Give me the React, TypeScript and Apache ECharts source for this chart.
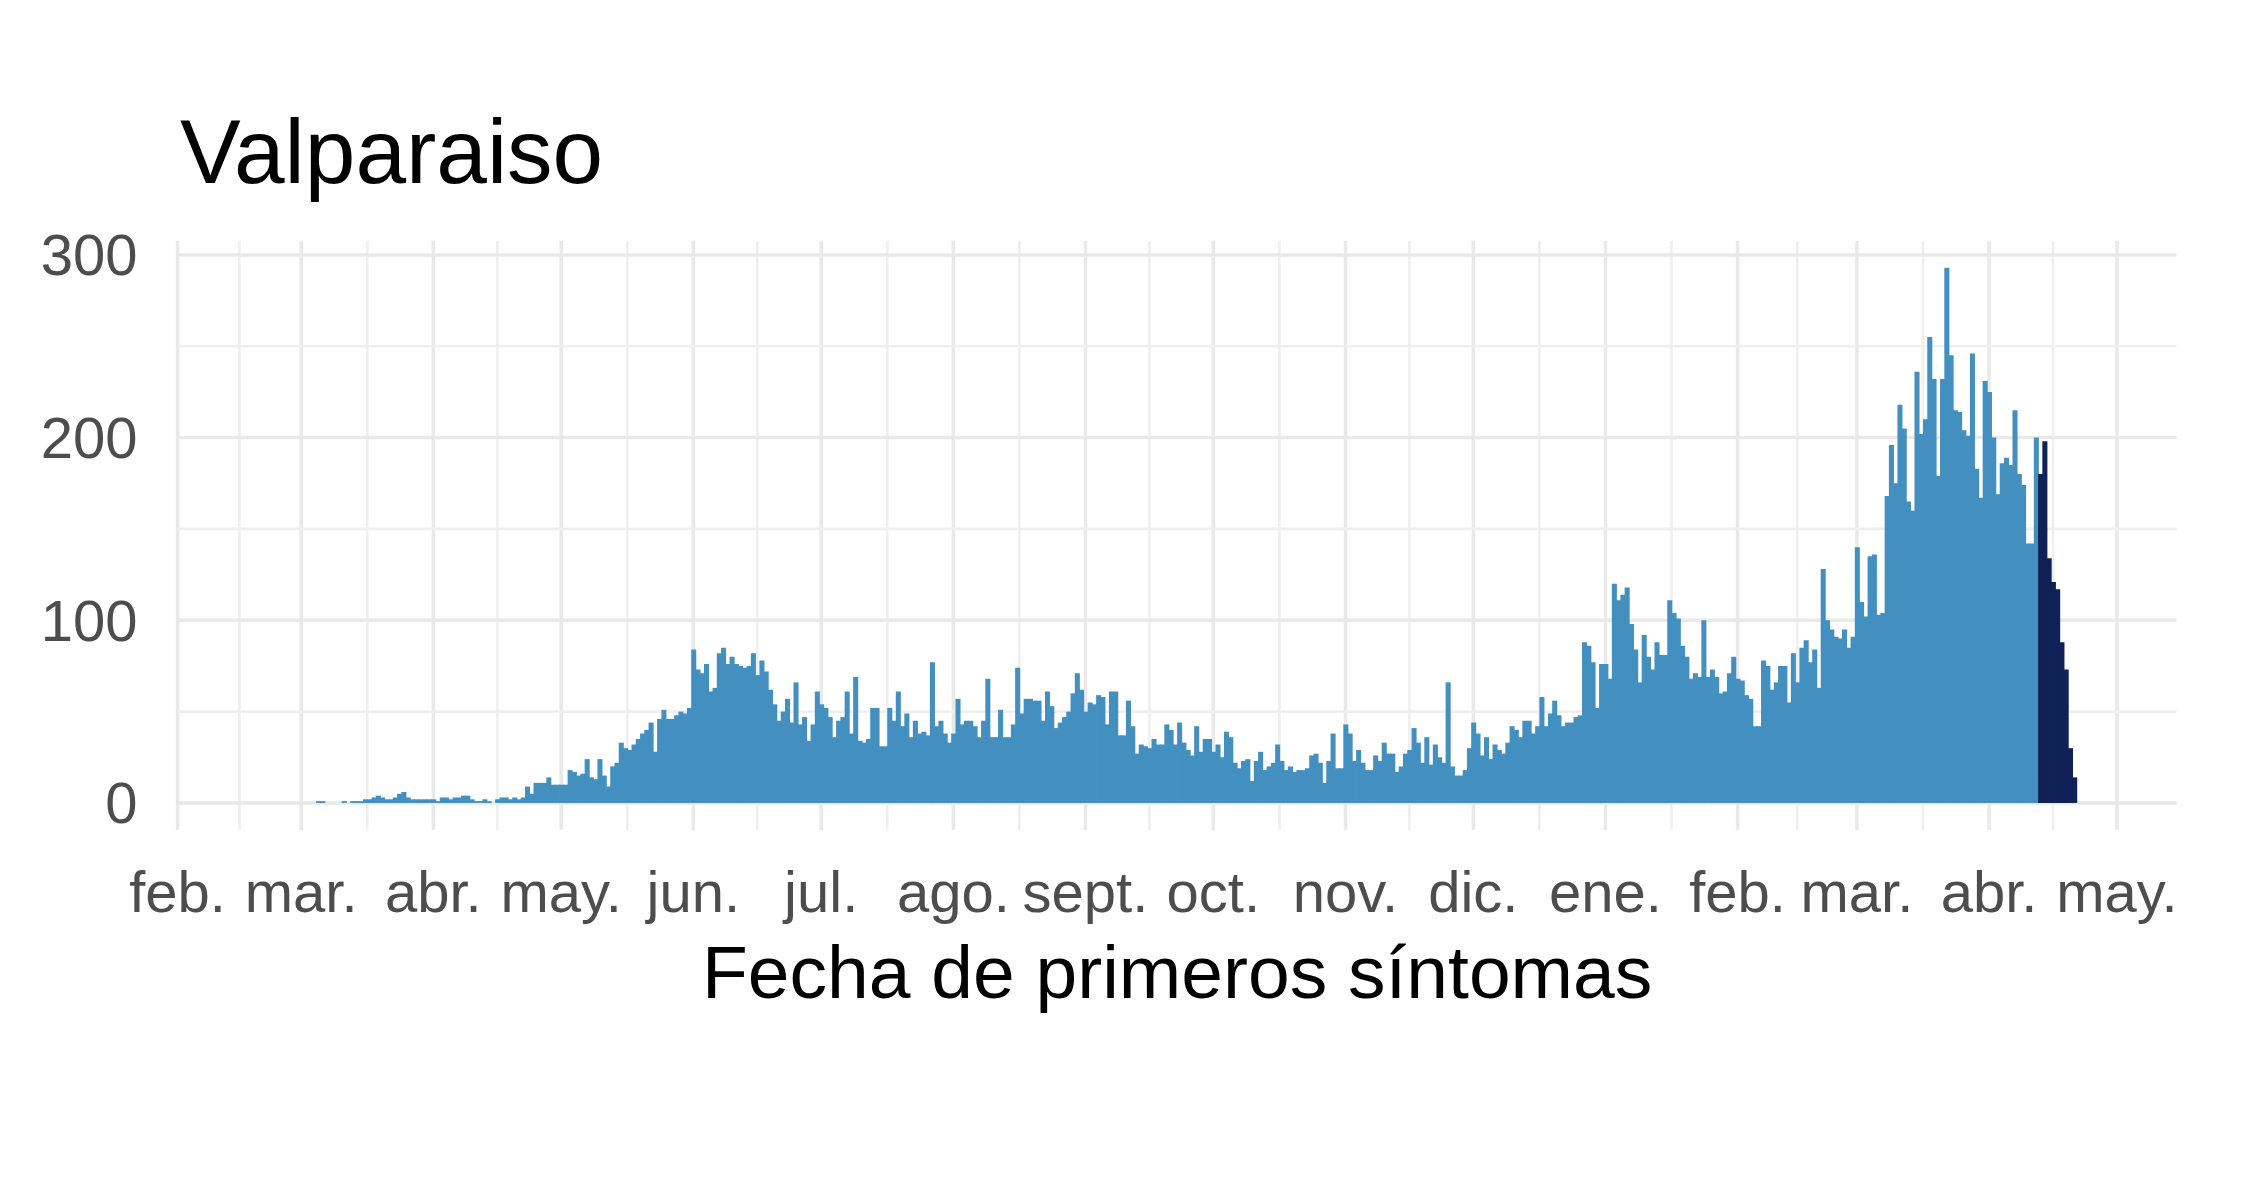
import React, { useEffect, useRef } from "react";
import * as echarts from "echarts";

// ---- Data: daily cases by date of first symptoms (Valparaiso) ----
const ORIGIN_DATE = "2020-02-01";
const SERIES_START = "2020-03-01";

const casosMar2020 = [0, 0, 0, 0, 1, 1, 0, 0, 0, 0, 1, 0, 1, 1, 1, 2, 2, 3, 4, 3, 2, 2, 3, 5, 6, 3, 2, 2, 2, 2, 2];
const casosAbr2020 = [2, 1, 3, 3, 2, 3, 3, 4, 4, 2, 1, 1, 2, 1, 0, 2, 3, 3, 2, 3, 2, 3, 9, 5, 11, 11, 11, 14, 10, 10];
const casosMay2020 = [10, 10, 18, 17, 15, 16, 24, 14, 13, 24, 15, 9, 20, 22, 33, 30, 29, 32, 35, 38, 40, 44, 28, 46, 51, 46, 46, 48, 50, 49, 52];
const casosJun2020 = [84, 73, 71, 76, 61, 63, 82, 85, 76, 80, 76, 75, 74, 75, 82, 70, 78, 72, 62, 54, 45, 50, 57, 44, 66, 43, 47, 34, 43, 61];
const casosJul2020 = [54, 52, 47, 36, 45, 47, 61, 38, 69, 34, 33, 35, 52, 52, 31, 31, 52, 45, 61, 42, 49, 36, 45, 38, 39, 37, 77, 42, 45, 38, 33];
const casosAgo2020 = [38, 57, 43, 45, 45, 42, 36, 45, 68, 36, 36, 51, 36, 36, 43, 74, 49, 57, 57, 56, 56, 45, 61, 53, 41, 44, 47, 50, 60, 71, 62];
const casosSep2020 = [50, 55, 54, 59, 58, 43, 61, 61, 37, 37, 56, 42, 27, 32, 31, 30, 35, 32, 32, 43, 40, 32, 44, 33, 29, 26, 42, 28, 35, 35];
const casosOct2020 = [28, 32, 25, 39, 36, 22, 19, 23, 24, 12, 23, 28, 18, 20, 22, 32, 23, 18, 20, 17, 18, 18, 19, 26, 27, 22, 11, 23, 38, 19, 19];
const casosNov2020 = [43, 38, 23, 29, 22, 18, 18, 26, 23, 33, 27, 27, 17, 20, 27, 29, 41, 33, 22, 36, 21, 32, 25, 22, 66, 20, 15, 15, 18, 30];
const casosDic2020 = [44, 38, 26, 36, 24, 32, 29, 27, 33, 42, 40, 36, 45, 45, 38, 42, 58, 42, 49, 56, 48, 42, 44, 44, 47, 48, 88, 86, 77, 52, 76];
const casosEne2021 = [76, 68, 120, 111, 114, 118, 98, 84, 66, 92, 80, 73, 88, 81, 81, 111, 104, 101, 86, 80, 68, 71, 69, 100, 69, 73, 69, 60, 61, 71, 80];
const casosFeb2021 = [68, 67, 59, 57, 42, 42, 78, 75, 62, 66, 75, 75, 55, 82, 66, 85, 89, 77, 84, 63, 128, 100, 95, 91, 90, 95, 85, 91];
const casosMar2021 = [140, 110, 102, 135, 136, 103, 104, 168, 196, 175, 218, 205, 165, 160, 236, 202, 210, 255, 232, 179, 232, 293, 245, 215, 214, 204, 201, 246, 183, 167, 231];
const casosAbr2021 = [225, 200, 169, 186, 189, 185, 215, 180, 174, 142, 142, 200];
// Most recent days (still being reported), 2021-04-13 .. 2021-04-21
const RECENT_START = "2021-04-13";
const casosRecientes = [180, 198, 134, 121, 117, 88, 73, 30, 14];

const TICK_LABELS = ["feb.", "mar.", "abr.", "may.", "jun.", "jul.", "ago.", "sept.", "oct.", "nov.", "dic.", "ene.", "feb.", "mar.", "abr.", "may."];
const TICK_DATES = [
  "2020-02-01", "2020-03-01", "2020-04-01", "2020-05-01", "2020-06-01", "2020-07-01",
  "2020-08-01", "2020-09-01", "2020-10-01", "2020-11-01", "2020-12-01", "2021-01-01",
  "2021-02-01", "2021-03-01", "2021-04-01", "2021-05-01",
];
const Y_TICKS = [0, 100, 200, 300];
const Y_MINOR = [50, 150, 250];

const TITLE = "Valparaiso";
const X_TITLE = "Fecha de primeros síntomas";

const dayIndex = (s: string) =>
  Math.round((Date.parse(s + "T00:00:00Z") - Date.parse(ORIGIN_DATE + "T00:00:00Z")) / 86400000);

export default function App() {
  const ref = useRef<HTMLDivElement>(null);

  useEffect(() => {
    if (!ref.current) return;
    const chart = echarts.init(ref.current, undefined, { renderer: "svg" });

    const allLight = [
      ...casosMar2020, ...casosAbr2020, ...casosMay2020, ...casosJun2020, ...casosJul2020,
      ...casosAgo2020, ...casosSep2020, ...casosOct2020, ...casosNov2020, ...casosDic2020,
      ...casosEne2021, ...casosFeb2021, ...casosMar2021, ...casosAbr2021,
    ];
    const s0 = dayIndex(SERIES_START);
    const lightData = allLight.map((v, i) => [s0 + i, v]);
    const r0 = dayIndex(RECENT_START);
    const darkData = casosRecientes.map((v, i) => [r0 + i, v]);

    const majorDays = TICK_DATES.map(dayIndex);
    const minorDays: number[] = [];
    for (let i = 0; i < majorDays.length - 1; i++) minorDays.push((majorDays[i] + majorDays[i + 1]) / 2);

    const vgridData = [
      ...minorDays.map((d) => [d, 0, 0]),
      ...majorDays.map((d) => [d, 0, 1]),
    ];
    const hgridData = [
      ...Y_MINOR.map((v) => [0, v, 0]),
      ...Y_TICKS.map((v) => [0, v, 1]),
    ];

    const barRender = (color: string) => (params: any, api: any) => {
      const d = api.value(0);
      const v = api.value(1);
      const p0 = api.coord([d - 0.5, v]);
      const p1 = api.coord([d + 0.5, 0]);
      return {
        type: "rect",
        shape: { x: p0[0], y: p0[1], width: p1[0] - p0[0] + 0.8, height: p1[1] - p0[1] },
        style: { fill: color },
      };
    };

    chart.setOption({
      animation: false,
      backgroundColor: "#ffffff",
      title: {
        text: TITLE,
        left: 175,
        top: 101,
        textStyle: {
          fontFamily: "Liberation Sans, Arial, sans-serif",
          fontSize: 91,
          fontWeight: "normal",
          color: "#000000",
        },
      },
      grid: { left: 177.6, top: 241, width: 1999, height: 589 },
      xAxis: {
        type: "value",
        min: 0,
        max: 469,
        name: X_TITLE,
        nameLocation: "middle",
        nameGap: 104,
        nameTextStyle: {
          fontFamily: "Liberation Sans, Arial, sans-serif",
          fontSize: 75,
          color: "#000000",
        },
        axisLine: { show: false, onZero: false },
        axisTick: { show: false },
        splitLine: { show: false },
        axisLabel: {
          customValues: majorDays,
          margin: 32,
          fontFamily: "Liberation Sans, Arial, sans-serif",
          fontSize: 58,
          color: "#4d4d4d",
          formatter: (v: number) => {
            const i = majorDays.indexOf(Math.round(v));
            return i >= 0 ? TICK_LABELS[i] : "";
          },
        },
      },
      yAxis: {
        type: "value",
        min: -14.8,
        max: 307.6,
        axisLine: { show: false },
        axisTick: { show: false },
        splitLine: { show: false },
        axisLabel: {
          customValues: Y_TICKS,
          margin: 40,
          fontFamily: "Liberation Sans, Arial, sans-serif",
          fontSize: 58,
          color: "#4d4d4d",
          formatter: (v: number) => String(Math.round(v)),
        },
      },
      series: [
        {
          type: "custom",
          name: "vgrid",
          z: 1,
          silent: true,
          data: vgridData,
          encode: { x: 0, y: 1 },
          renderItem: (params: any, api: any) => {
            const x = api.coord([api.value(0), 0])[0];
            const cs = params.coordSys;
            const major = api.value(2) === 1;
            return {
              type: "line",
              shape: { x1: x, y1: cs.y, x2: x, y2: cs.y + cs.height },
              style: { stroke: major ? "#e9e9e9" : "#efefef", lineWidth: major ? 3.5 : 2.6 },
            };
          },
        },
        {
          type: "custom",
          name: "hgrid",
          z: 1,
          silent: true,
          data: hgridData,
          encode: { x: 0, y: 1 },
          renderItem: (params: any, api: any) => {
            const y = api.coord([0, api.value(1)])[1];
            const cs = params.coordSys;
            const major = api.value(2) === 1;
            return {
              type: "line",
              shape: { x1: cs.x, y1: y, x2: cs.x + cs.width, y2: y },
              style: { stroke: major ? "#e9e9e9" : "#efefef", lineWidth: major ? 3.5 : 2.6 },
            };
          },
        },
        {
          type: "custom",
          name: "Casos",
          z: 3,
          data: lightData,
          encode: { x: 0, y: 1 },
          renderItem: barRender("#4390c0"),
        },
        {
          type: "custom",
          name: "Casos recientes",
          z: 3,
          data: darkData,
          encode: { x: 0, y: 1 },
          renderItem: barRender("#0f2156"),
        },
      ],
    });

    return () => chart.dispose();
  }, []);

  return (
    <div
      ref={ref}
      style={{ position: "fixed", left: 0, top: 0, width: 2248, height: 1180, background: "#fff" }}
    />
  );
}
